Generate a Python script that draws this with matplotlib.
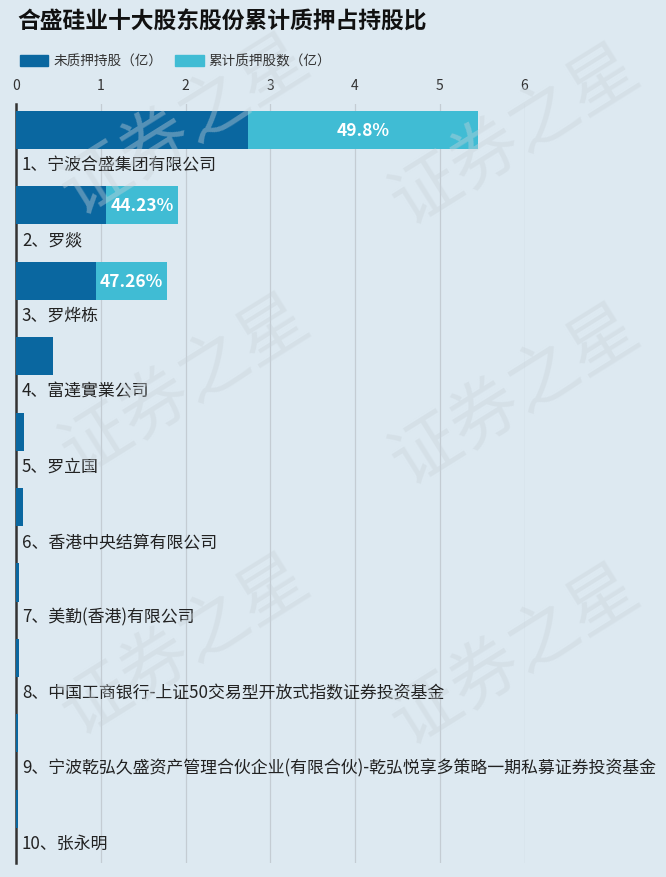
import matplotlib.pyplot as plt
from matplotlib.patches import Rectangle

plt.rcParams['font.family'] = ['Noto Sans CJK SC', 'DejaVu Sans']

# data (亿股)
holders = ["1、宁波合盛集团有限公司", "2、罗燚", "3、罗烨栋", "4、富達實業公司", "5、罗立国",
           "6、香港中央结算有限公司", "7、美勤(香港)有限公司",
           "8、中国工商银行-上证50交易型开放式指数证券投资基金",
           "9、宁波乾弘久盛资产管理合伙企业(有限合伙)-乾弘悦享多策略一期私募证券投资基金",
           "10、张永明"]
unpledged = [2.74, 1.065, 0.94, 0.44, 0.094, 0.083, 0.03, 0.03, 0.02, 0.02]
pledged = [2.71, 0.845, 0.84, 0, 0, 0, 0, 0, 0, 0]
pledge_pct = ["49.8%", "44.23%", "47.26%", "", "", "", "", "", "", ""]

BG = "#dde9f1"
DARK = "#0a67a0"
LIGHT = "#40bcd4"

W, H = 666, 878
fig = plt.figure(figsize=(W / 100, H / 100), dpi=100, facecolor=BG)

# watermark (kept inside the canvas)
for cx, cy in [(185, 125), (515, 135), (185, 385), (515, 395), (185, 645), (515, 655)]:
    fig.text(cx / W, 1 - cy / H, "证券之星", fontsize=50, color="#c9d3da", alpha=0.4,
             rotation=32, ha="center", va="center", zorder=0)

left, right, top, bottom = 16, 524.5, 105, 864
ax = fig.add_axes([left / W, 1 - bottom / H, (right - left) / W, (bottom - top) / H])
ax.set_facecolor("none")

ypos = list(range(len(holders)))
ax.barh(ypos, unpledged, height=0.505, color=DARK, zorder=3)
ax.barh(ypos, pledged, left=unpledged, height=0.505, color=LIGHT, zorder=3)

for i, name in enumerate(holders):
    ax.text(0.07, i + 0.45, name, fontsize=12.2, color="#222222", va="center", ha="left",
            clip_on=False, zorder=4)
    if pledge_pct[i]:
        ax.text(unpledged[i] + pledged[i] / 2, i, pledge_pct[i], fontsize=12.5, fontweight="bold",
                color="white", ha="center", va="center", zorder=4)

ax.set_xlim(0, 6)
ax.set_ylim(9.72, -0.345)
ax.set_xticks(range(7))
ax.xaxis.tick_top()
ax.tick_params(axis="x", length=0, pad=9, labelsize=10, labelcolor="#333333")
ax.set_yticks([])
ax.grid(axis="x", color="#c4ccd3", linewidth=0.9, zorder=1)
for s in ["top", "right", "bottom"]:
    ax.spines[s].set_visible(False)
ax.spines["left"].set_color("#333333")
ax.spines["left"].set_linewidth(1.8)
ax.spines["left"].set_zorder(2)

# title
fig.text(17 / W, 1 - 22 / H, "合盛硅业十大股东股份累计质押占持股比", fontsize=16.4, fontweight="bold",
         color="#111111", ha="left", va="center")

# legend
fig.patches.append(Rectangle((20 / W, 1 - 67 / H), 28 / W, 11 / H, transform=fig.transFigure,
                             color=DARK))
fig.text(53 / W, 1 - 61.5 / H, "未质押持股（亿）", fontsize=9.8, color="#333333", va="center")
fig.patches.append(Rectangle((175 / W, 1 - 67 / H), 29 / W, 11 / H, transform=fig.transFigure,
                             color=LIGHT))
fig.text(208 / W, 1 - 61.5 / H, "累计质押股数（亿）", fontsize=9.8, color="#333333", va="center")

fig.savefig("out.png", dpi=100, facecolor=BG)
